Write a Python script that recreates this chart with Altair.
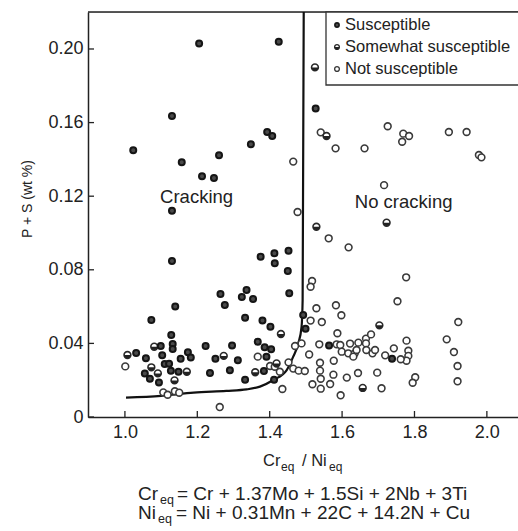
import altair as alt
import pandas as pd

# ---------------- data ----------------
sus_x = [1.023, 1.130, 1.205, 1.157, 1.213, 1.246, 1.260, 1.348, 1.393, 1.407, 1.425, 1.130,
         1.527, 1.130, 1.139, 1.073, 1.128, 1.264, 1.276, 1.323, 1.336, 1.354, 1.332, 1.375,
         1.413, 1.414, 1.452, 1.450, 1.454, 1.380, 1.402, 1.223, 1.296, 1.367, 1.250, 1.312,
         1.235, 1.290, 1.332, 1.384, 1.386, 1.391, 1.404, 1.412, 1.4925, 1.499, 1.564, 1.738,
         1.031, 1.058, 1.055, 1.069, 1.099, 1.094, 1.103, 1.110, 1.122, 1.127, 1.132, 1.132,
         1.148, 1.154, 1.174, 1.182]
sus_y = [0.145, 0.1636, 0.203, 0.1384, 0.1308, 0.1299, 0.1422, 0.1482, 0.1549, 0.1527, 0.204, 0.1121,
         0.1677, 0.0848, 0.060, 0.0527, 0.0446, 0.0668, 0.0609, 0.0652, 0.069, 0.0641, 0.054, 0.0871,
         0.089, 0.0835, 0.0904, 0.0793, 0.0672, 0.0524, 0.049, 0.0386, 0.0388, 0.0409, 0.0317, 0.0308,
         0.0239, 0.0254, 0.0203, 0.025, 0.0379, 0.0328, 0.0368, 0.0203, 0.0554, 0.048, 0.0388, 0.0317,
         0.0348, 0.0319, 0.0237, 0.0208, 0.0386, 0.0187, 0.0335, 0.0288, 0.029, 0.0251, 0.0397, 0.037,
         0.0246, 0.0317, 0.0352, 0.0324]

some_x = [1.525, 1.557, 1.529, 1.723, 1.703, 1.657, 1.431, 1.273, 1.360, 1.419,
          1.007, 1.073, 1.081, 1.091, 1.137, 1.171]
some_y = [0.190, 0.1527, 0.1034, 0.1056, 0.0498, 0.0158, 0.0451, 0.0332, 0.0243, 0.0291,
          0.0337, 0.027, 0.0382, 0.0237, 0.0199, 0.0246]

not_x = [1.465, 1.477, 1.541, 1.582, 1.662, 1.726, 1.769, 1.785, 1.766, 1.895, 1.944, 1.978,
         1.985, 1.716, 1.563, 1.618, 1.777, 1.517, 1.513, 1.753, 1.529, 1.583, 1.598, 1.544,
         1.513, 1.921, 1.587, 1.889, 1.778, 1.909, 1.919, 1.919, 1.802, 1.795, 1.596, 1.709,
         1.541, 1.518, 1.567, 1.541, 1.576, 1.613, 1.644, 1.697, 1.539, 1.539, 1.577, 1.509,
         1.488, 1.470, 1.537, 1.585, 1.595, 1.622, 1.645, 1.666, 1.680, 1.666, 1.599, 1.617,
         1.635, 1.640, 1.631, 1.667, 1.684, 1.691, 1.719, 1.743, 1.465, 1.480, 1.497, 1.783,
         1.783, 1.778, 1.762, 1.262, 1.001, 1.367, 1.401, 1.428, 1.435, 1.452, 1.106, 1.118,
         1.138, 1.150, 1.414]
not_y = [0.1388, 0.1114, 0.1547, 0.146, 0.146, 0.158, 0.154, 0.1527, 0.1496, 0.1549, 0.1549, 0.1424,
         0.1411, 0.126, 0.0971, 0.0922, 0.0759, 0.0739, 0.0708, 0.0629, 0.0591, 0.0607, 0.0553, 0.0516,
         0.0524, 0.0516, 0.0455, 0.0422, 0.0415, 0.0353, 0.0277, 0.0194, 0.0216, 0.0186, 0.0118, 0.0156,
         0.0154, 0.0178, 0.0179, 0.0208, 0.023, 0.0214, 0.0239, 0.0241, 0.0252, 0.0295, 0.0306, 0.034,
         0.040, 0.0386, 0.0395, 0.0395, 0.0391, 0.0399, 0.0404, 0.0426, 0.0449, 0.040, 0.0355, 0.0346,
         0.0346, 0.0364, 0.0328, 0.0364, 0.0346, 0.0364, 0.0335, 0.0373, 0.0263, 0.0252, 0.025, 0.036,
         0.0332, 0.0306, 0.0314, 0.0054, 0.0275, 0.0328, 0.0277, 0.0246, 0.0152, 0.0297, 0.0134, 0.0121,
         0.014, 0.0132, 0.0273]

curve_x = [1.003, 1.10, 1.19, 1.28, 1.336, 1.373, 1.41, 1.447, 1.465, 1.479, 1.488, 1.491, 1.494]
curve_y = [0.0105, 0.0115, 0.0132, 0.0142, 0.015, 0.0165, 0.0201, 0.0255, 0.0328, 0.040, 0.049, 0.0636, 0.2201]

x_ticks = [1.0, 1.2, 1.4, 1.6, 1.8, 2.0]
y_ticks = [0.0, 0.04, 0.08, 0.12, 0.16, 0.20]

categories = ["Susceptible", "Somewhat susceptible", "Not susceptible"]
regions = ["Cracking", "No cracking"]
region_x = [1.198, 1.770]
region_y = [0.1197, 0.117]

# ---------------- chart ----------------
W, H = 430, 405
FONT = "Liberation Sans"
INK = "#222222"

xs = alt.Scale(domain=[0.898, 2.086], nice=False, zero=False)
ys = alt.Scale(domain=[0, 0.2201], nice=False, zero=False)

xaxis = alt.Axis(values=x_ticks, format=".1f", title=None, ticks=False, grid=False,
                 labelFontSize=18, labelFont=FONT, labelColor=INK, labelPadding=6,
                 domainColor=INK, domainWidth=1.5)
yaxis = alt.Axis(values=y_ticks, labelExpr="datum.value == 0 ? '0' : format(datum.value, '.2f')",
                 title=None, ticks=False, grid=False, labelFontSize=18, labelFont=FONT,
                 labelColor=INK, labelPadding=5, domainColor=INK, domainWidth=1.5)

X = alt.X("x:Q", scale=xs, axis=xaxis)
Y = alt.Y("y:Q", scale=ys, axis=yaxis)

sus_df = pd.DataFrame({"x": sus_x, "y": sus_y})
some_df = pd.DataFrame({"x": some_x, "y": some_y})
not_df = pd.DataFrame({"x": not_x, "y": not_y})
curve_df = pd.DataFrame({"x": curve_x, "y": curve_y})
xt_df = pd.DataFrame({"x": x_ticks})
yt_df = pd.DataFrame({"y": y_ticks})
reg_df = pd.DataFrame({"x": region_x, "y": region_y, "t": regions})
one = pd.DataFrame({"a": [0]})

HALF = "M -1 0 A 1 1 0 0 0 1 0 Z"

layers = []
# inward ticks
layers.append(alt.Chart(xt_df).mark_rule(color=INK, strokeWidth=1.3).encode(
    x=X, y=alt.value(H - 6), y2=alt.value(H)))
layers.append(alt.Chart(yt_df).mark_rule(color=INK, strokeWidth=1.3).encode(
    y=Y, x=alt.value(0), x2=alt.value(6)))
# top frame line
layers.append(alt.Chart(one).mark_rule(color=INK, strokeWidth=1.5).encode(
    x=alt.value(0), x2=alt.value(W + 5), y=alt.value(0)))
# boundary curve
layers.append(alt.Chart(curve_df).mark_line(color="#111111", strokeWidth=2.2,
                                            interpolate="monotone").encode(x=X, y=Y))
# points
layers.append(alt.Chart(not_df).mark_point(shape="circle", filled=True, fill="white",
                                           stroke="#3a3a3a", strokeWidth=1.6, size=46,
                                           opacity=1).encode(x=X, y=Y))
layers.append(alt.Chart(some_df).mark_point(shape="circle", filled=True, fill="white",
                                            stroke="#2a2a2a", strokeWidth=1.6, size=46,
                                            opacity=1).encode(x=X, y=Y))
layers.append(alt.Chart(some_df).mark_point(shape=HALF, filled=True, fill="#222222",
                                            strokeWidth=0, size=46, opacity=1).encode(x=X, y=Y))
layers.append(alt.Chart(sus_df).mark_point(shape="circle", filled=True, fill="#4a4a4a",
                                           stroke="#151515", strokeWidth=2.0, size=36,
                                           opacity=1).encode(x=X, y=Y))
# region labels
layers.append(alt.Chart(reg_df).mark_text(font=FONT, fontSize=18.5, color=INK,
                                          align="center", baseline="middle").encode(
    x=X, y=Y, text="t:N"))

# legend box
layers.append(alt.Chart(one).mark_rect(fill="white", stroke="#333333", strokeWidth=1.3).encode(
    x=alt.value(238), x2=alt.value(W + 10), y=alt.value(0), y2=alt.value(73)))
leg_y = [13, 35, 57]
lx = 249
layers.append(alt.Chart(one).mark_point(shape="circle", filled=True, fill="#4a4a4a",
                                        stroke="#151515", strokeWidth=1.6, size=18,
                                        opacity=1).encode(x=alt.value(lx), y=alt.value(leg_y[0])))
layers.append(alt.Chart(one).mark_point(shape="circle", filled=True, fill="white",
                                        stroke="#2a2a2a", strokeWidth=1.4, size=22,
                                        opacity=1).encode(x=alt.value(lx), y=alt.value(leg_y[1])))
layers.append(alt.Chart(one).mark_point(shape=HALF, filled=True, fill="#222222",
                                        strokeWidth=0, size=22,
                                        opacity=1).encode(x=alt.value(lx), y=alt.value(leg_y[1])))
layers.append(alt.Chart(one).mark_point(shape="circle", filled=True, fill="white",
                                        stroke="#3a3a3a", strokeWidth=1.4, size=22,
                                        opacity=1).encode(x=alt.value(lx), y=alt.value(leg_y[2])))
for i, c in enumerate(categories):
    layers.append(alt.Chart(one).mark_text(font=FONT, fontSize=16.5, color=INK, align="left",
                                           baseline="middle").encode(
        x=alt.value(257), y=alt.value(leg_y[i]), text=alt.value(c)))


def txt(s, x, y, size, align="left", baseline="alphabetic", angle=None):
    kw = dict(font=FONT, fontSize=size, color=INK, align=align, baseline=baseline)
    if angle is not None:
        kw["angle"] = angle
    return alt.Chart(one).mark_text(**kw).encode(x=alt.value(x), y=alt.value(y),
                                                  text=alt.value(s))


# y title
layers.append(txt("P + S (wt %)", -60, 187, 14, align="center", baseline="middle", angle=270))
# x title
layers.append(txt("Cr", 175, 454, 16.5))
layers.append(txt("eq", 193, 459, 12))
layers.append(txt("/ Ni", 214, 454, 16.5))
layers.append(txt("eq", 241, 459, 12))
# formulas
layers.append(txt("Cr", 50, 488, 19))
layers.append(txt("eq", 72, 492, 12.5))
layers.append(txt("= Cr + 1.37Mo + 1.5Si + 2Nb + 3Ti", 89, 488, 19))
layers.append(txt("Ni", 50, 507, 19))
layers.append(txt("eq", 70, 511, 12.5))
layers.append(txt("= Ni + 0.31Mn + 22C + 14.2N + Cu", 88, 507, 19))

chart = alt.layer(*layers).properties(
    width=W, height=H,
    padding={"left": 88, "top": 12, "right": 0, "bottom": 114},
    autosize="none",
).configure_view(stroke=None).configure(background="white")

chart.save("out.html", embed_options={"renderer": "svg", "actions": False})
